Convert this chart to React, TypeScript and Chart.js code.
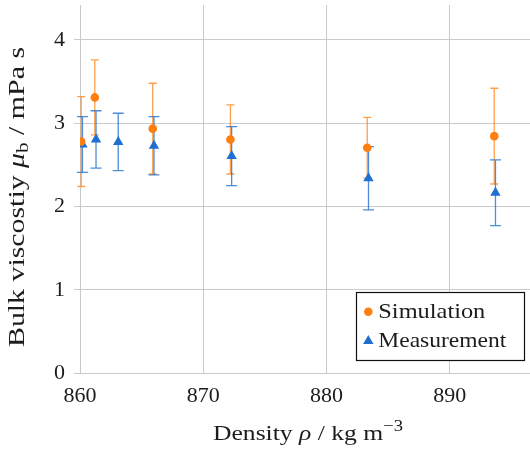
import React, { useEffect, useRef } from "react";
import { Chart, registerables } from "chart.js";

Chart.register(...registerables);

// Bulk viscosity versus density: simulation and measurement, with uncertainties
const simDensity = [860.1, 861.2, 865.9, 872.2, 883.3, 893.6];
const simViscosity = [2.78, 3.31, 2.935, 2.805, 2.705, 2.845];
const simError = [0.54, 0.45, 0.545, 0.415, 0.365, 0.575];

const measDensity = [860.2, 861.3, 863.1, 866.0, 872.3, 883.4, 893.7];
const measViscosity = [2.745, 2.805, 2.775, 2.73, 2.605, 2.34, 2.165];
const measError = [0.335, 0.345, 0.345, 0.35, 0.355, 0.38, 0.395];

const xTicks = [860, 870, 880, 890];
const yTicks = [0, 1, 2, 3, 4];
const seriesNames = ["Simulation", "Measurement"];

const FONT = "'Liberation Serif', 'Times New Roman', serif";
const TEXT = "#1c1c1c";
const GRID = "#cacaca";
const ORANGE = "#ff7f0e";
const BLUE = "#1f6fd0";

type Run = { text: string; italic?: boolean; size?: number; shift?: number };

function runsWidth(ctx: CanvasRenderingContext2D, runs: Run[], base: number) {
  let w = 0;
  for (const r of runs) {
    ctx.font = `${r.italic ? "italic " : ""}${r.size ?? base}px ${FONT}`;
    w += ctx.measureText(r.text).width;
  }
  return w;
}

// Draws a line of mixed-style text centred on cx, stretched to the given width
function drawRuns(
  ctx: CanvasRenderingContext2D,
  runs: Run[],
  cx: number,
  baseline: number,
  base: number,
  width: number
) {
  const natural = runsWidth(ctx, runs, base);
  const k = width / natural;
  ctx.save();
  ctx.translate(cx - width / 2, baseline);
  ctx.scale(k, 1);
  ctx.textAlign = "left";
  ctx.textBaseline = "alphabetic";
  ctx.fillStyle = TEXT;
  let x = 0;
  for (const r of runs) {
    ctx.font = `${r.italic ? "italic " : ""}${r.size ?? base}px ${FONT}`;
    ctx.fillText(r.text, x, r.shift ?? 0);
    x += ctx.measureText(r.text).width;
  }
  ctx.restore();
}

const errorBars = {
  id: "errorBars",
  beforeDatasetsDraw(chart: any) {
    const { ctx, scales } = chart;
    const sets = [
      { xs: simDensity, ys: simViscosity, es: simError, color: "rgba(255,127,14,0.75)", cap: 4 },
      { xs: measDensity, ys: measViscosity, es: measError, color: "rgba(31,111,208,0.8)", cap: 5.5 },
    ];
    ctx.save();
    ctx.lineWidth = 1.3;
    for (const s of sets) {
      ctx.strokeStyle = s.color;
      s.xs.forEach((xv, i) => {
        const px = scales.x.getPixelForValue(xv);
        const top = scales.y.getPixelForValue(s.ys[i] + s.es[i]);
        const bot = scales.y.getPixelForValue(s.ys[i] - s.es[i]);
        ctx.beginPath();
        ctx.moveTo(px, top);
        ctx.lineTo(px, bot);
        ctx.moveTo(px - s.cap, top);
        ctx.lineTo(px + s.cap, top);
        ctx.moveTo(px - s.cap, bot);
        ctx.lineTo(px + s.cap, bot);
        ctx.stroke();
      });
    }
    ctx.restore();
  },
};

const annotations = {
  id: "annotations",
  afterDraw(chart: any) {
    const { ctx } = chart;
    ctx.save();

    // x-axis title
    drawRuns(
      ctx,
      [
        { text: "Density " },
        { text: "ρ", italic: true },
        { text: " / kg m" },
        { text: "−3", size: 16, shift: -9 },
      ],
      308,
      440,
      22,
      190
    );

    // y-axis title
    ctx.save();
    ctx.translate(23.5, 197);
    ctx.rotate(-Math.PI / 2);
    drawRuns(
      ctx,
      [
        { text: "Bulk viscostiy " },
        { text: "μ", italic: true },
        { text: "b", size: 17, shift: 4 },
        { text: " / mPa s" },
      ],
      0,
      0,
      24,
      300
    );
    ctx.restore();

    // legend
    const lx = 356.5, ly = 292.5, lw = 168, lh = 68;
    ctx.fillStyle = "#ffffff";
    ctx.fillRect(lx, ly, lw, lh);
    ctx.strokeStyle = "#111";
    ctx.lineWidth = 1.2;
    ctx.strokeRect(lx, ly, lw, lh);

    ctx.fillStyle = ORANGE;
    ctx.beginPath();
    ctx.arc(368.3, 311.7, 4.3, 0, Math.PI * 2);
    ctx.fill();

    ctx.fillStyle = BLUE;
    const r = 6, tx = 368.3, ty = 341;
    ctx.beginPath();
    for (let k = 0; k < 3; k++) {
      const a = (k * 2 * Math.PI) / 3;
      const px = tx + Math.sin(a) * r;
      const py = ty - Math.cos(a) * r;
      if (k === 0) ctx.moveTo(px, py);
      else ctx.lineTo(px, py);
    }
    ctx.closePath();
    ctx.fill();

    drawRuns(ctx, [{ text: seriesNames[0] }], 378.3 + 107 / 2, 318.3, 22, 107);
    drawRuns(ctx, [{ text: seriesNames[1] }], 378.3 + 128 / 2, 346.7, 22, 128);

    ctx.restore();
  },
};

function noPadding(s: any) {
  s.paddingTop = 0;
  s.paddingBottom = 0;
  s.paddingLeft = 0;
  s.paddingRight = 0;
}

export default function App() {
  const canvasRef = useRef<HTMLCanvasElement | null>(null);

  useEffect(() => {
    if (!canvasRef.current) return;
    const chart = new Chart(canvasRef.current, {
      type: "scatter",
      data: {
        datasets: [
          {
            label: seriesNames[0],
            data: simDensity.map((x, i) => ({ x, y: simViscosity[i] })),
            pointStyle: "circle",
            pointRadius: 4.3,
            pointBackgroundColor: ORANGE,
            pointBorderWidth: 0,
            borderColor: ORANGE,
          },
          {
            label: seriesNames[1],
            data: measDensity.map((x, i) => ({ x, y: measViscosity[i] })),
            pointStyle: "triangle",
            pointRadius: 6,
            pointBackgroundColor: BLUE,
            pointBorderWidth: 0,
            borderColor: BLUE,
          },
        ],
      },
      options: {
        responsive: false,
        animation: false,
        layout: { autoPadding: false, padding: { top: 5, right: 0, left: 0, bottom: 0 } },
        plugins: {
          legend: { display: false },
          tooltip: { enabled: false },
        },
        scales: {
          x: {
            type: "linear",
            min: 860,
            max: 896.5,
            afterFit: (s: any) => {
              s.height = 76;
              noPadding(s);
            },
            afterBuildTicks: (s: any) => {
              s.ticks = xTicks.map((v) => ({ value: v }));
            },
            grid: { color: GRID, lineWidth: 1, drawTicks: false },
            border: { color: GRID, width: 1 },
            ticks: {
              color: TEXT,
              padding: 10,
              font: { family: FONT, size: 22 },
              maxRotation: 0,
            },
          },
          y: {
            type: "linear",
            min: 0,
            max: 4.42,
            afterFit: (s: any) => {
              s.width = 80;
              noPadding(s);
            },
            afterBuildTicks: (s: any) => {
              s.ticks = yTicks.map((v) => ({ value: v }));
            },
            grid: { color: GRID, lineWidth: 1, drawTicks: true, tickLength: 6 },
            border: { color: GRID, width: 1 },
            ticks: {
              color: TEXT,
              padding: 9,
              font: { family: FONT, size: 22 },
            },
          },
        },
      },
      plugins: [errorBars, annotations],
    } as any);
    return () => chart.destroy();
  }, []);

  return (
    <div style={{ position: "absolute", left: 0, top: 0, width: 530, height: 449, background: "#fff" }}>
      <canvas ref={canvasRef} width={530} height={449} />
    </div>
  );
}
